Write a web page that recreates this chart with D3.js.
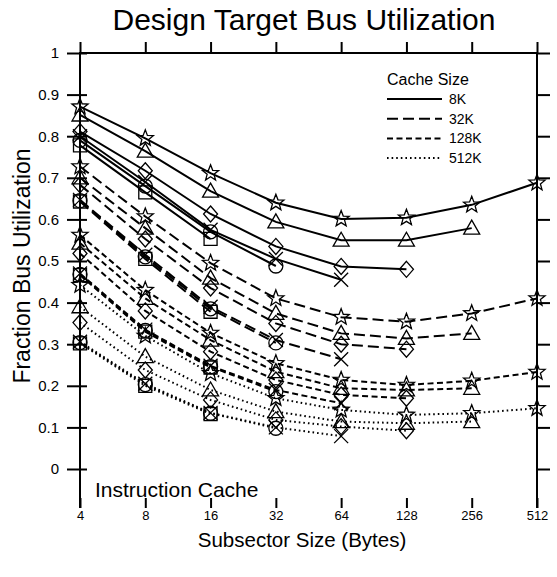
<!DOCTYPE html>
<html>
<head>
<meta charset="utf-8">
<script src="https://cdn.jsdelivr.net/npm/d3@7/dist/d3.min.js"></script>
<style>
  html, body { margin: 0; padding: 0; background: #fff; }
  svg { display: block; }
  text { font-family: "Liberation Sans", Arial, sans-serif; fill: #000; }
</style>
</head>
<body>
<svg id="chart" width="557" height="577"></svg>
<script>
// Subsector sizes (bytes) on the x axis
const subsectors = [4, 8, 16, 32, 64, 128, 256, 512];
const xTickLabels = ["4", "8", "16", "32", "64", "128", "256", "512"];
const yTicks = [0, 0.1, 0.2, 0.3, 0.4, 0.5, 0.6, 0.7, 0.8, 0.9, 1];

// Cache sizes, one line style each
const cacheSizes = ["8K", "32K", "128K", "512K"];
// Line sizes (bytes), one marker each; a curve stops where subsector = line size
const lineSizes = [16, 32, 64, 128, 256, 512];
const markerTypes = ["square", "circle", "cross", "diamond", "triangle", "star"];

// Bus utilization per line size, listed from subsector 4 upward
const util8K = [
  [0.778, 0.665, 0.553],
  [0.79, 0.68, 0.57, 0.488],
  [0.80, 0.69, 0.575, 0.505, 0.455],
  [0.811, 0.717, 0.613, 0.535, 0.487, 0.48],
  [0.851, 0.764, 0.668, 0.594, 0.55, 0.55, 0.579],
  [0.871, 0.795, 0.711, 0.64, 0.601, 0.604, 0.635, 0.688]
];
const util32K = [
  [0.643, 0.505, 0.378],
  [0.645, 0.51, 0.385, 0.303],
  [0.647, 0.515, 0.39, 0.31, 0.264],
  [0.683, 0.553, 0.435, 0.35, 0.30, 0.288],
  [0.70, 0.579, 0.459, 0.374, 0.326, 0.314, 0.326],
  [0.727, 0.607, 0.495, 0.41, 0.365, 0.354, 0.374, 0.41]
];
const util128K = [
  [0.466, 0.33, 0.244],
  [0.468, 0.333, 0.246, 0.186],
  [0.47, 0.335, 0.248, 0.19, 0.158],
  [0.518, 0.38, 0.282, 0.214, 0.178, 0.17],
  [0.543, 0.41, 0.31, 0.234, 0.194, 0.19, 0.194],
  [0.5625, 0.43, 0.327, 0.254, 0.214, 0.202, 0.212, 0.233]
];
const util512K = [
  [0.302, 0.2, 0.132],
  [0.304, 0.203, 0.134, 0.098],
  [0.306, 0.205, 0.135, 0.1, 0.079],
  [0.352, 0.238, 0.166, 0.118, 0.102, 0.092],
  [0.39, 0.27, 0.19, 0.138, 0.114, 0.11, 0.114],
  [0.442, 0.32, 0.23, 0.17, 0.142, 0.13, 0.134, 0.146]
];
const utilByCache = [util8K, util32K, util128K, util512K];
const dashes = [null, "11,5", "6,3.5", "1.6,3"];

const svg = d3.select("#chart");
const plotLeft = 80, plotRight = 537, plotTop = 53, plotBottom = 508;

const x = d3.scaleLog().base(2).domain([4, 512]).range([plotLeft, plotRight]);
const y = d3.scaleLinear().domain([0, 1]).range([469, plotTop]);

// Title
svg.append("text")
  .attr("x", 304).attr("y", 30)
  .attr("text-anchor", "middle")
  .style("font-size", "30px")
  .text("Design Target Bus Utilization");

// Left axis: ticks crossing the axis line
const yAxisL = d3.axisLeft(y).tickValues(yTicks).tickSizeInner(13).tickSizeOuter(0)
  .tickPadding(8).tickFormat(d3.format("~g"));
const gL = svg.append("g").attr("transform", `translate(${plotLeft},0)`).call(yAxisL);
gL.select(".domain").remove();
gL.selectAll(".tick line").attr("x1", 7).attr("x2", -13).attr("stroke-width", 2);
gL.selectAll(".tick text").style("font-size", "15px").attr("x", -21)
  .style("font-family", "'Liberation Sans', Arial, sans-serif");

// Right axis: outward ticks
const gR = svg.append("g").attr("transform", `translate(${plotRight},0)`)
  .call(d3.axisRight(y).tickValues(yTicks).tickSize(13).tickFormat(""));
gR.select(".domain").remove();
gR.selectAll(".tick line").attr("stroke-width", 2);

// Top axis: outward ticks
const gT = svg.append("g").attr("transform", `translate(0,${plotTop})`)
  .call(d3.axisTop(x).tickValues(subsectors).tickSize(11).tickFormat(""));
gT.select(".domain").remove();
gT.selectAll(".tick line").attr("stroke-width", 2);

// Bottom axis: short inward ticks, labels below
const gB = svg.append("g").attr("transform", `translate(0,${plotBottom})`)
  .call(d3.axisBottom(x).tickValues(subsectors).tickSize(0).tickPadding(3)
    .tickFormat((d, i) => xTickLabels[i]));
gB.select(".domain").remove();
gB.selectAll(".tick line").attr("y1", 0).attr("y2", -10).attr("stroke-width", 2);
gB.selectAll(".tick text").style("font-size", "13px")
  .style("font-family", "'Liberation Sans', Arial, sans-serif");

// Axis titles
svg.append("text")
  .attr("x", 302).attr("y", 547)
  .attr("text-anchor", "middle")
  .style("font-size", "20.5px")
  .text("Subsector Size (Bytes)");
svg.append("text")
  .attr("transform", "translate(30,266) rotate(-90)")
  .attr("text-anchor", "middle")
  .style("font-size", "23px")
  .text("Fraction Bus Utilization");

svg.append("text")
  .attr("x", 95).attr("y", 497)
  .style("font-size", "21px")
  .text("Instruction Cache");

// Curves
const line = d3.line().x(d => x(d.s)).y(d => y(d.v));
const series = [];
utilByCache.forEach((rows, ci) => {
  rows.forEach((vals, li) => {
    series.push({
      cache: ci, marker: markerTypes[li],
      pts: vals.map((v, k) => ({ s: subsectors[k], v }))
    });
  });
});

const curves = svg.append("g").attr("fill", "none").attr("stroke", "#000").attr("stroke-width", 2);
series.forEach(s => {
  curves.append("path")
    .attr("d", line(s.pts))
    .attr("stroke-dasharray", dashes[s.cache]);
});

// Marker shapes, centred at the origin
function markerPath(type) {
  switch (type) {
    case "square": return "M-6.5,-6.5H6.5V6.5H-6.5Z";
    case "circle": return "M7,0A7,7 0 1,1 -7,0A7,7 0 1,1 7,0Z";
    case "cross": return "M-7,-7L7,7M-7,7L7,-7";
    case "diamond": return "M0,-8L7,0L0,8L-7,0Z";
    case "triangle": return "M0,-8L8,6H-8Z";
    case "star": {
      const pts = [];
      for (let i = 0; i < 10; i++) {
        const r = i % 2 === 0 ? 8.5 : 3.6;
        const a = -Math.PI / 2 + i * Math.PI / 5;
        pts.push([r * Math.cos(a), r * Math.sin(a)]);
      }
      return "M" + pts.map(p => p[0].toFixed(2) + "," + p[1].toFixed(2)).join("L") + "Z";
    }
  }
}

const marks = svg.append("g").attr("fill", "none").attr("stroke", "#000").attr("stroke-width", 1.3);
series.forEach(s => {
  s.pts.forEach(p => {
    marks.append("path")
      .attr("transform", `translate(${x(p.s)},${y(p.v)})`)
      .attr("d", markerPath(s.marker));
  });
});

// Plot frame on top: left, top and right edges
svg.append("path")
  .attr("d", `M${plotLeft},${plotBottom}L${plotLeft},${plotTop}L${plotRight},${plotTop}L${plotRight},${plotBottom}`)
  .attr("fill", "none")
  .attr("stroke", "black")
  .attr("stroke-width", 2.2)
  .attr("shape-rendering", "crispEdges");

// Legend
const legend = svg.append("g");
legend.append("text").attr("x", 387).attr("y", 85).style("font-size", "16px").text("Cache Size");
cacheSizes.forEach((c, i) => {
  const ly = 99 + i * 19.7;
  legend.append("line")
    .attr("x1", 387).attr("x2", 442).attr("y1", ly).attr("y2", ly)
    .style("stroke", "#000").style("stroke-width", "2px")
    .attr("stroke-dasharray", dashes[i]);
  legend.append("text").attr("x", 449).attr("y", ly + 5)
    .style("font-size", "14px").text(c);
});
</script>
</body>
</html>
